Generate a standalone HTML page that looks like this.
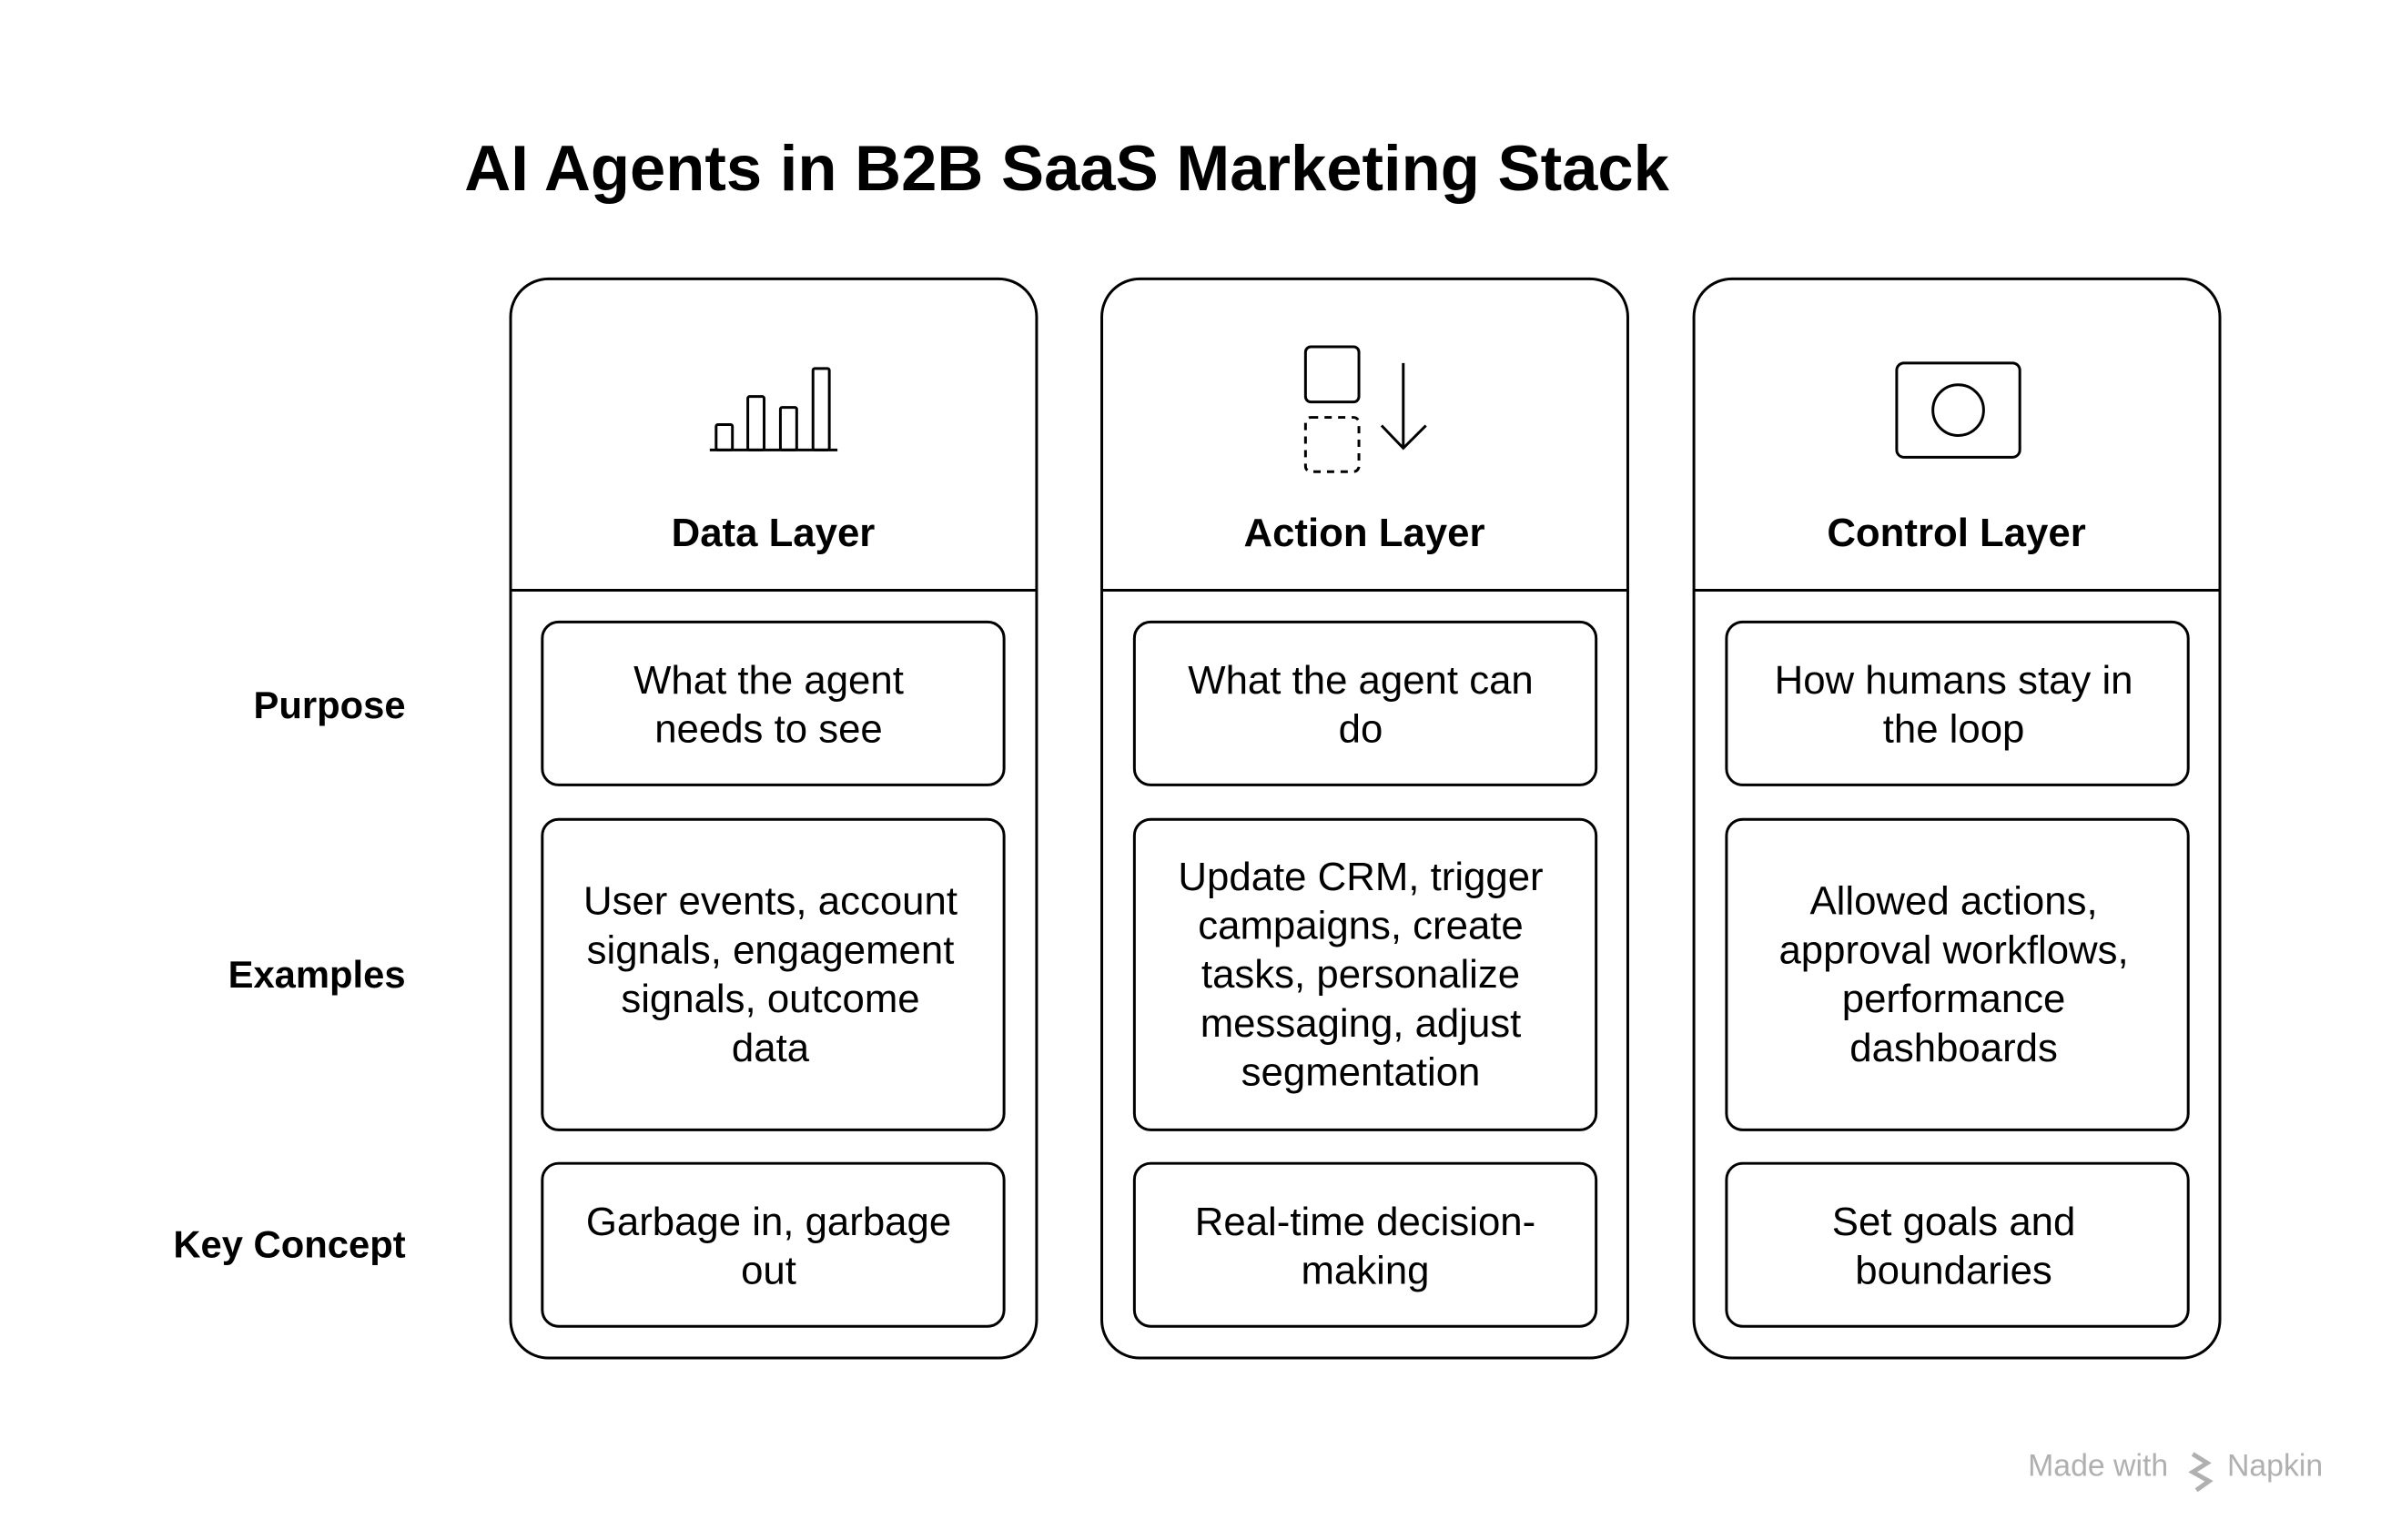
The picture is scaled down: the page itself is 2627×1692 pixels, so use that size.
<!DOCTYPE html>
<html><head><meta charset="utf-8"><style>
html,body{margin:0;padding:0;background:#fff}
svg{display:block}
text{font-family:"Liberation Sans",Arial,sans-serif;fill:#000}
.h{font-weight:bold;font-size:44px}
.b{font-size:44px}
.l{font-weight:bold;font-size:42px}
</style></head><body>
<svg width="2627" height="1692" viewBox="0 0 2627 1692" xmlns="http://www.w3.org/2000/svg">
<g transform="scale(0.9947)">
<text x="513" y="210" style="font-weight:bold;font-size:71px">AI Agents in B2B SaaS Marketing Stack</text>
<g fill="none" stroke="#000" stroke-width="3">
<rect x="564" y="308" width="581" height="1192" rx="42"/>
<rect x="1217" y="308" width="581" height="1192" rx="42"/>
<rect x="1871" y="308" width="581" height="1192" rx="42"/>
<line x1="564" y1="652" x2="1145" y2="652"/>
<line x1="1217" y1="652" x2="1798" y2="652"/>
<line x1="1871" y1="652" x2="2452" y2="652"/>
<rect x="599" y="687" width="510" height="180" rx="18"/>
<rect x="599" y="905" width="510" height="343" rx="18"/>
<rect x="599" y="1285" width="510" height="180" rx="18"/>
<rect x="1253" y="687" width="510" height="180" rx="18"/>
<rect x="1253" y="905" width="510" height="343" rx="18"/>
<rect x="1253" y="1285" width="510" height="180" rx="18"/>
<rect x="1907" y="687" width="510" height="180" rx="18"/>
<rect x="1907" y="905" width="510" height="343" rx="18"/>
<rect x="1907" y="1285" width="510" height="180" rx="18"/>
<g transform="translate(3,0)">
<line x1="781" y1="497" x2="922" y2="497"/>
<rect x="788" y="469" width="18" height="28" rx="2"/>
<rect x="823" y="438" width="18" height="59" rx="2"/>
<rect x="859" y="450" width="18" height="47" rx="2"/>
<rect x="895" y="407" width="18" height="90" rx="2"/>
</g>
<g transform="translate(7,3)">
<rect x="1435" y="380" width="59" height="61" rx="6"/>
<rect x="1435" y="458" width="59" height="60" rx="6" stroke-dasharray="8 7"/>
<line x1="1543" y1="398" x2="1543" y2="492"/>
<polyline points="1519,467 1543,492 1568,467"/>
<rect x="2088" y="398" width="136" height="104" rx="8"/>
<circle cx="2156" cy="450" r="28"/>
</g>
</g>
<g text-anchor="middle" transform="translate(0,3)">
<text class="h" x="854" y="600">Data Layer</text>
<text class="h" x="1507" y="600">Action Layer</text>
<text class="h" x="2161" y="600">Control Layer</text>
<text class="b" x="849" y="763">What the agent</text>
<text class="b" x="849" y="817">needs to see</text>
<text class="b" x="851" y="1007">User events, account</text>
<text class="b" x="851" y="1061">signals, engagement</text>
<text class="b" x="851" y="1115">signals, outcome</text>
<text class="b" x="851" y="1169">data</text>
<text class="b" x="849" y="1361">Garbage in, garbage</text>
<text class="b" x="849" y="1415">out</text>
<text class="b" x="1503" y="763">What the agent can</text>
<text class="b" x="1503" y="817">do</text>
<text class="b" x="1503" y="980">Update CRM, trigger</text>
<text class="b" x="1503" y="1034">campaigns, create</text>
<text class="b" x="1503" y="1088">tasks, personalize</text>
<text class="b" x="1503" y="1142">messaging, adjust</text>
<text class="b" x="1503" y="1196">segmentation</text>
<text class="b" x="1508" y="1361">Real-time decision-</text>
<text class="b" x="1508" y="1415">making</text>
<text class="b" x="2158" y="763">How humans stay in</text>
<text class="b" x="2158" y="817">the loop</text>
<text class="b" x="2158" y="1007">Allowed actions,</text>
<text class="b" x="2158" y="1061">approval workflows,</text>
<text class="b" x="2158" y="1115">performance</text>
<text class="b" x="2158" y="1169">dashboards</text>
<text class="b" x="2158" y="1361">Set goals and</text>
<text class="b" x="2158" y="1415">boundaries</text>
</g>
<g text-anchor="end" transform="translate(0,2)">
<text class="l" x="448" y="791">Purpose</text>
<text class="l" x="448" y="1089">Examples</text>
<text class="l" x="448" y="1387">Key Concept</text>
</g>
<text x="2240" y="1630" style="font-size:34px;fill:#b0b0b0">Made with</text>
<g stroke="#b0b0b0" stroke-width="5" fill="none"><polyline points="2422,1606 2438,1616 2422,1626 2440,1636 2426,1646"/></g>
<text x="2460" y="1630" style="font-size:34px;fill:#b0b0b0">Napkin</text>
</g>
</svg>
</body></html>
